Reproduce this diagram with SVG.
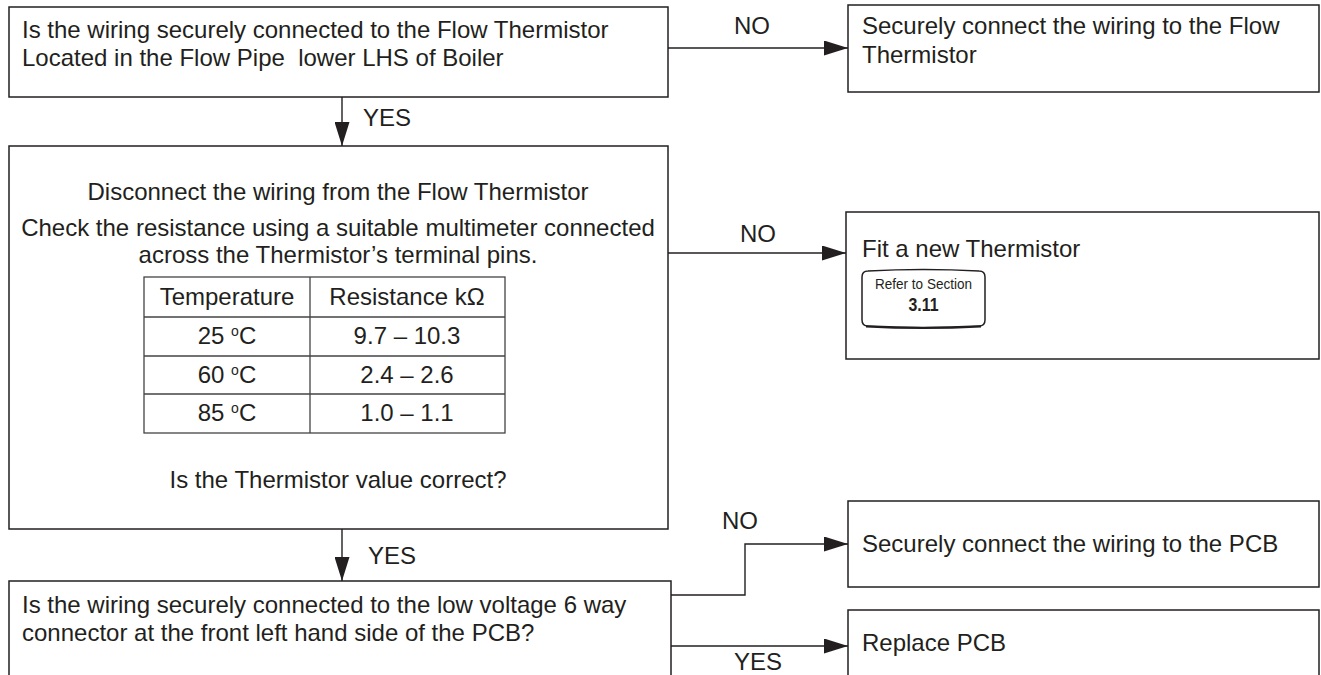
<svg xmlns="http://www.w3.org/2000/svg" width="1321" height="675" viewBox="0 0 1321 675">
<defs>
<style>
.box{fill:#fff;stroke:#231f20;stroke-width:1.5}
.t{font-family:"Liberation Sans",Arial,sans-serif;font-size:24px;fill:#231f20}
.c{text-anchor:middle}
.ln{fill:none;stroke:#231f20;stroke-width:1.4}
.tb{fill:none;stroke:#444;stroke-width:1.3}
</style>
<marker id="ah" viewBox="0 0 24 15" refX="24" refY="7.5" markerWidth="24" markerHeight="15" markerUnits="userSpaceOnUse" orient="auto">
<path d="M0,0 L24,7.5 L0,15 Z" fill="#231f20"/>
</marker>
</defs>
<rect width="1321" height="675" fill="#fff"/>
<g id="q1">
<rect class="box" x="9" y="7" width="659" height="90"/>
<text class="t" x="22" y="38">Is the wiring securely connected to the Flow Thermistor</text>
<text class="t" x="22" y="66">Located in the Flow Pipe&#160; lower LHS of Boiler</text>
</g>
<g id="a1">
<rect class="box" x="848" y="5" width="471" height="87"/>
<text class="t" x="862" y="34">Securely connect the wiring to the Flow</text>
<text class="t" x="862" y="63">Thermistor</text>
</g>
<g id="q2">
<rect class="box" x="9" y="146" width="659" height="383"/>
<text class="t c" x="338" y="200">Disconnect the wiring from the Flow Thermistor</text>
<text class="t c" x="338" y="236">Check the resistance using a suitable multimeter connected</text>
<text class="t c" x="338" y="263">across the Thermistor’s terminal pins.</text>
<g id="table">
<rect class="tb" x="144" y="277" width="361" height="156"/>
<path class="tb" d="M310,277 V433 M144,317 H505 M144,356 H505 M144,394 H505"/>
<text class="t c" x="227" y="305">Temperature</text>
<text class="t c" x="407" y="305">Resistance kΩ</text>
<text class="t c" x="227" y="344">25 <tspan font-size="14" dy="-8">o</tspan><tspan dy="8">C</tspan></text>
<text class="t c" x="407" y="344">9.7 – 10.3</text>
<text class="t c" x="227" y="383">60 <tspan font-size="14" dy="-8">o</tspan><tspan dy="8">C</tspan></text>
<text class="t c" x="407" y="383">2.4 – 2.6</text>
<text class="t c" x="227" y="421">85 <tspan font-size="14" dy="-8">o</tspan><tspan dy="8">C</tspan></text>
<text class="t c" x="407" y="421">1.0 – 1.1</text>
</g>
<text class="t c" x="338" y="488">Is the Thermistor value correct?</text>
</g>
<g id="a2">
<rect class="box" x="846" y="212" width="473" height="147"/>
<text class="t" x="862" y="257">Fit a new Thermistor</text>
<g id="ref">
<path d="M868,271 Q923,268 979,271 Q985,271 985,277 V320 Q985,326 979,326 Q923,329 868,326 Q862,326 862,320 V277 Q862,271 868,271 Z" fill="#fff" stroke="#231f20" stroke-width="1.5"/>
<path d="M866,326.5 Q923,329.5 981,326.5" stroke="#231f20" stroke-width="2.2" fill="none"/>
<text class="c" x="923.5" y="289" font-family="'Liberation Sans',Arial,sans-serif" font-size="14" fill="#231f20" textLength="97" lengthAdjust="spacingAndGlyphs">Refer to Section</text>
<text class="c" x="923.5" y="311" font-family="'Liberation Sans',Arial,sans-serif" font-size="18" font-weight="bold" fill="#231f20" textLength="30" lengthAdjust="spacingAndGlyphs">3.11</text>
</g>
</g>
<g id="q3">
<rect class="box" x="9" y="581" width="662" height="120"/>
<text class="t" x="22" y="613">Is the wiring securely connected to the low voltage 6 way</text>
<text class="t" x="22" y="641">connector at the front left hand side of the PCB?</text>
</g>
<g id="a3">
<rect class="box" x="848" y="501" width="471" height="86"/>
<text class="t" x="862" y="552">Securely connect the wiring to the PCB</text>
</g>
<g id="a4">
<rect class="box" x="848" y="610" width="471" height="90"/>
<text class="t" x="862" y="651">Replace PCB</text>
</g>
<g id="connectors">
<path class="ln" d="M668,48 H848" marker-end="url(#ah)"/>
<path class="ln" d="M342,97 V146" marker-end="url(#ah)"/>
<path class="ln" d="M668,253 H846" marker-end="url(#ah)"/>
<path class="ln" d="M342,529 V581" marker-end="url(#ah)"/>
<path class="ln" d="M671,595 H745 V544 H848" marker-end="url(#ah)"/>
<path class="ln" d="M671,646 H848" marker-end="url(#ah)"/>
<text class="t c" x="752" y="34">NO</text>
<text class="t" x="363" y="126">YES</text>
<text class="t c" x="758" y="242">NO</text>
<text class="t" x="368" y="564">YES</text>
<text class="t c" x="740" y="529">NO</text>
<text class="t c" x="758" y="670">YES</text>
</g>
</svg>
